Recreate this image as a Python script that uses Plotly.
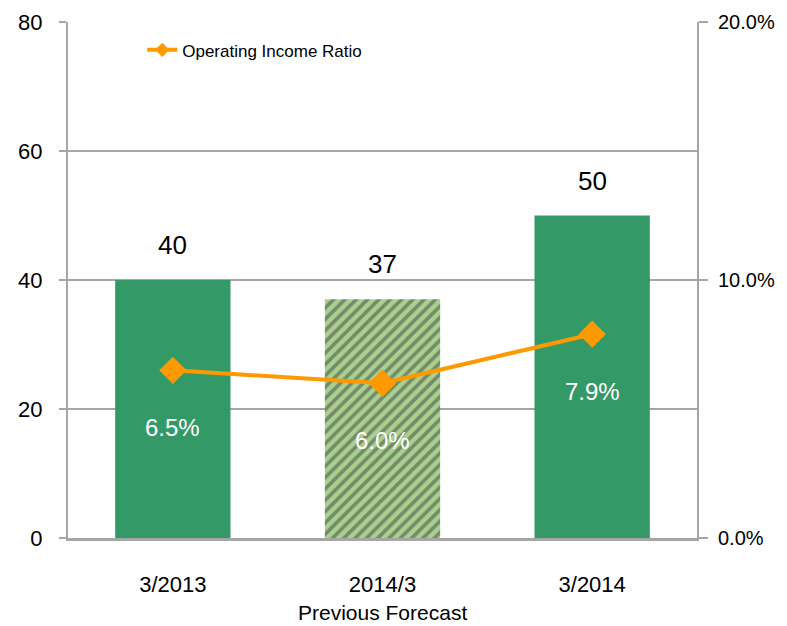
import plotly.graph_objects as go

categories = ["3/2013", "2014/3", "3/2014"]
sub_label = "Previous Forecast"
income = [40, 37, 50]
ratio = [6.5, 6.0, 7.9]
ratio_labels = ["6.5%", "6.0%", "7.9%"]
left_ticks = [0, 20, 40, 60, 80]
right_ticks = [0, 10, 20]
right_tick_labels = ["0.0%", "10.0%", "20.0%"]

GREEN = "#339966"
LIGHT = "#A9D18E"
ORANGE = "#FF9900"
GRID = "#A6A6A6"
FONT = "Liberation Sans, Arial, sans-serif"

fig = go.Figure()
fig.add_trace(go.Bar(
    x=categories, y=income, showlegend=False,
    marker=dict(
        color=[GREEN, LIGHT, GREEN],
        line=dict(width=0),
        pattern=dict(shape=["", "/", ""], fgcolor=GREEN,
                     size=8, solidity=0.45, fillmode="overlay"),
    ),
))
fig.add_trace(go.Scatter(
    x=categories, y=ratio, yaxis="y2", mode="lines+markers",
    showlegend=False,
    line=dict(color=ORANGE, width=4),
    marker=dict(symbol="diamond", size=21, color=ORANGE),
))
# legend entry with a smaller marker, as in the reference
fig.add_trace(go.Scatter(
    x=[None], y=[None], yaxis="y2", mode="lines+markers",
    name="Operating Income Ratio",
    line=dict(color=ORANGE, width=4),
    marker=dict(symbol="diamond", size=11, color=ORANGE),
))
for c, v in zip(categories, income):
    fig.add_annotation(x=c, y=v, text=str(v), showarrow=False, yanchor="middle",
                       yshift=35, font=dict(size=26, color="black", family=FONT))
for c, r, t in zip(categories, ratio, ratio_labels):
    fig.add_annotation(x=c, y=r, yref="y2", text=t, showarrow=False,
                       yanchor="middle", yshift=-57,
                       font=dict(size=24, color="white", family=FONT))
fig.add_annotation(x=categories[1], y=0, yref="paper", text=sub_label,
                   showarrow=False, yanchor="middle", yshift=-74,
                   font=dict(size=21, color="black", family=FONT))

fig.update_layout(
    width=779, height=618,
    margin=dict(l=60, r=90, t=14, b=88, autoexpand=False),
    plot_bgcolor="white", paper_bgcolor="white",
    bargap=0.45,
    font=dict(family=FONT, color="black"),
    xaxis=dict(showline=True, linecolor=GRID, linewidth=2.5, automargin=False,
               tickfont=dict(size=22), ticks="", ticklabelstandoff=25),
    yaxis=dict(range=[0, 80], tickvals=left_ticks, showgrid=True, automargin=False,
               gridcolor=GRID, gridwidth=2, showline=True,
               linecolor=GRID, linewidth=2, ticks="outside", ticklen=7,
               tickcolor=GRID, tickwidth=2, tickfont=dict(size=22),
               ticklabelstandoff=12, zeroline=False),
    yaxis2=dict(range=[0, 20], tickvals=right_ticks, ticktext=right_tick_labels,
                overlaying="y", side="right", showgrid=False, showline=True,
                automargin=False,
                linecolor=GRID, linewidth=2, ticks="outside", ticklen=9,
                tickcolor=GRID, tickwidth=2, tickfont=dict(size=20),
                ticklabelstandoff=6, zeroline=False),
    legend=dict(x=0.118, y=0.98, xanchor="left", yanchor="top",
                font=dict(size=17), bgcolor="rgba(0,0,0,0)"),
)
fig.write_html("out.html")
